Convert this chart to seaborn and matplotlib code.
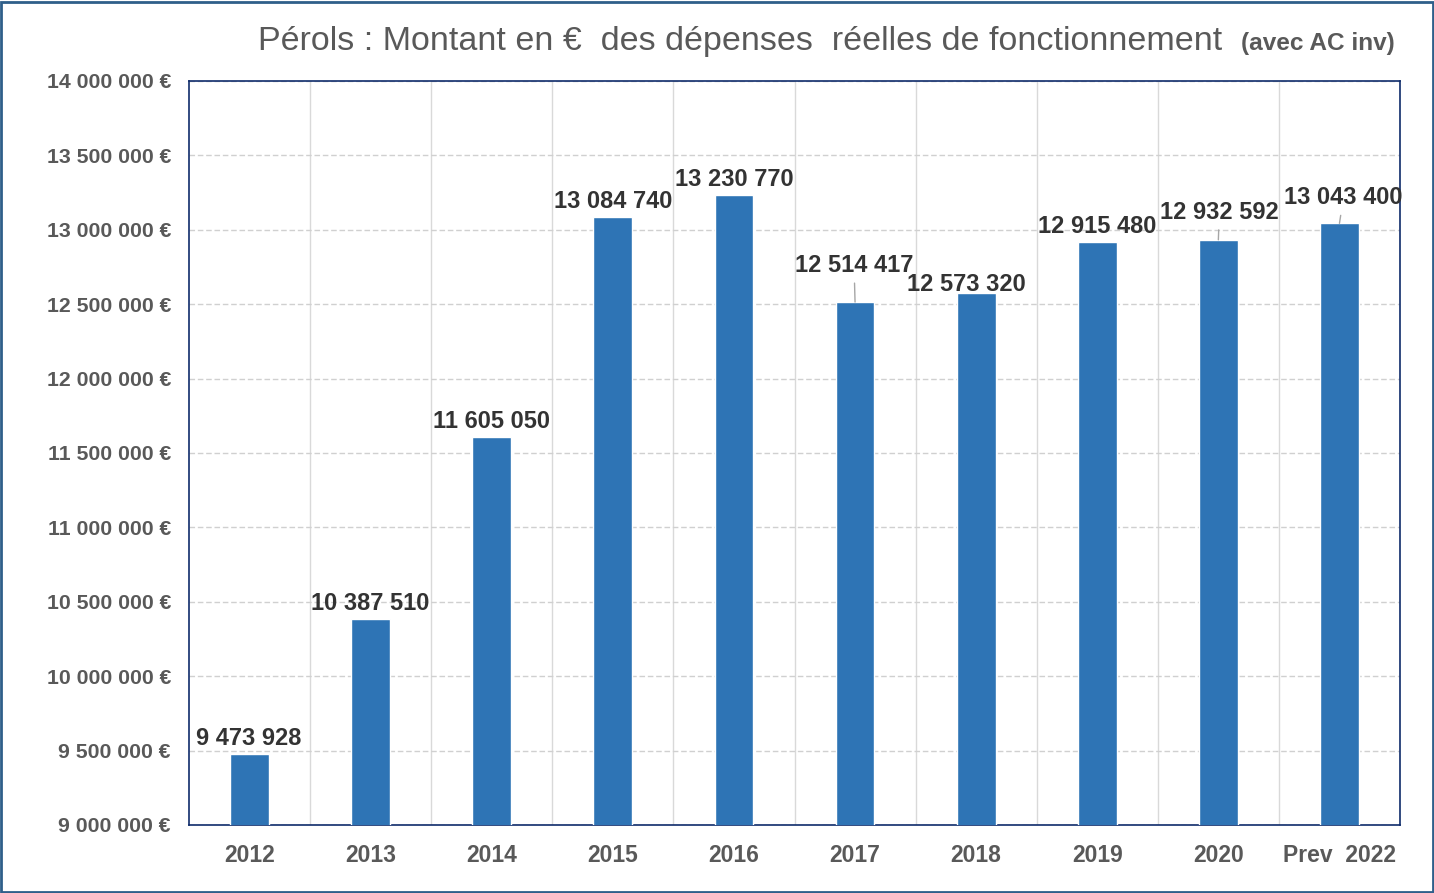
import matplotlib
matplotlib.use("Agg")
import matplotlib.pyplot as plt
import matplotlib.ticker as mticker
from matplotlib.patches import Rectangle
import numpy as np
import pandas as pd
import seaborn as sns

# data
years = ["2012", "2013", "2014", "2015", "2016", "2017", "2018", "2019", "2020", "Prev  2022"]
montants = [9473928, 10387510, 11605050, 13084740, 13230770, 12514417, 12573320, 12915480, 12932592, 13043400]
y_ticks = [9000000, 9500000, 10000000, 10500000, 11000000, 11500000, 12000000,
           12500000, 13000000, 13500000, 14000000]

# label offsets in pixels (dx, dy) from bar top, and whether a leader line is drawn
label_offsets = [(-1, 9), (0, 9), (0, 9), (0, 9), (0, 9), (-1, 30), (-10, 2), (0, 9), (1, 21), (4, 19)]
leaders = [False, False, False, False, False, True, False, False, True, True]

BAR = "#2E74B5"
TXT = "#595959"
LBL = "#333333"

sns.set_theme(style="white")
plt.rcParams["font.family"] = ["Liberation Sans", "DejaVu Sans"]

df = pd.DataFrame({"annee": years, "montant": montants})

fig = plt.figure(figsize=(14.34, 8.93), dpi=100)
fig.patch.set_facecolor("white")
ax = fig.add_axes([189 / 1434, 1 - 825 / 893, (1400 - 189) / 1434, (825 - 81) / 893])

sns.barplot(data=df, x="annee", y="montant", color=BAR, width=0.32,
            saturation=1, ax=ax, zorder=3)

ax.set_ylim(9000000, 14000000)
ax.set_xlim(-0.5, len(years) - 0.5)
ax.set_yticks(y_ticks)
ax.yaxis.set_major_formatter(mticker.FuncFormatter(
    lambda v, _: f"{v:,.0f}".replace(",", " ") + " €"))
ax.set_xticks(np.arange(len(years)) + 0.5, minor=True)

ax.grid(axis="y", which="major", color="#D0D0D0", linestyle=(0, (4, 2)), lw=1, zorder=0)
ax.grid(axis="x", which="minor", color="#D9D9D9", linestyle="-", lw=1, zorder=0)
ax.grid(axis="x", which="major", visible=False)
ax.set_axisbelow(True)

ax.tick_params(axis="both", which="both", length=0)
ax.tick_params(axis="y", pad=13, labelsize=15.3, labelcolor=TXT)
ax.tick_params(axis="x", pad=14, labelsize=16.5, labelcolor=TXT)
for t in ax.get_yticklabels() + ax.get_xticklabels():
    t.set_fontweight("bold")
ax.set_xlabel("")
ax.set_ylabel("")

for s in ax.spines.values():
    s.set_visible(True)
    s.set_color("#0F2C6B")
    s.set_linewidth(1.2)

# data labels
for i, (v, (dx, dy), lead) in enumerate(zip(montants, label_offsets, leaders)):
    txt = f"{v:,.0f}".replace(",", " ")
    arrow = dict(arrowstyle="-", color="#A6A6A6", lw=1, shrinkA=2, shrinkB=0) if lead else None
    ax.annotate(txt, xy=(i, v), xytext=(dx, dy), textcoords="offset pixels",
                ha="center", va="baseline", fontsize=17, fontweight="bold",
                color=LBL, arrowprops=arrow, zorder=5)

# title
fig.text(1222 / 1434, 1 - 50 / 893, "Pérols : Montant en €  des dépenses  réelles de fonctionnement",
         ha="right", va="baseline", fontsize=24.5, color=TXT)
fig.text(1241 / 1434, 1 - 50 / 893, "(avec AC inv)", ha="left", va="baseline",
         fontsize=17.6, fontweight="bold", color=TXT)

# outer frame
fig.patches.append(Rectangle((0.001, 0.001), 0.998, 0.997, transform=fig.transFigure,
                             fill=False, edgecolor="#2F5F8A", lw=2))

fig.savefig("out.png", dpi=100, facecolor="white")
